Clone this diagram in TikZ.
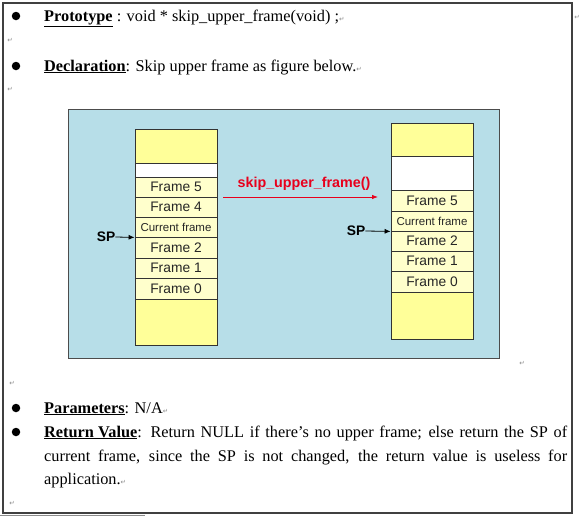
\documentclass[tikz,border=0pt]{standalone}
\usepackage{fontspec}
\setmainfont{Liberation Serif}
\setsansfont{Liberation Sans}
\newfontfamily\markfont{DejaVu Sans}
\usetikzlibrary{arrows.meta}
\definecolor{bgblue}{HTML}{B7DEE8}
\definecolor{stackyellow}{HTML}{FFFF99}
\definecolor{framecream}{HTML}{FFFFCC}
\definecolor{arrowred}{HTML}{E8001C}
\definecolor{markgray}{HTML}{8A8A8A}
\newcommand{\pmark}{{\markfont\fontsize{6.5}{7}\selectfont\color{markgray}↵}}
\tikzset{
  cell/.style={draw=black!80, line width=0.8pt, minimum width=82pt, inner sep=0pt, text=black!85,
    font=\sffamily\fontsize{13.8}{15}\selectfont},
  ybox/.style={cell, fill=stackyellow},
  fbox/.style={cell, fill=framecream},
  wbox/.style={cell, fill=white},
  cfbox/.style={fbox, font=\sffamily\fontsize{11.5}{13}\selectfont},
  splabel/.style={font=\sffamily\bfseries\fontsize{13.8}{15}\selectfont, inner sep=0pt},
  sparrow/.style={-{Latex[length=6pt,width=5pt]}, line width=0.8pt},
  body/.style={anchor=base west, inner sep=0pt, font=\fontsize{16.3}{23}\selectfont},
  bullet/.style={circle, fill=black, inner sep=0pt, minimum size=8.5pt},
  retmark/.style={inner sep=0pt}
}
\begin{document}
\begin{tikzpicture}[x=1pt,y=-1pt]
\useasboundingbox (0,0) rectangle (579,517);
\fill[white] (0,0) rectangle (579,517);
% outer frame
\draw[line width=1.3pt, draw=black!75] (3,3) rectangle (572,513);
\draw[line width=0.8pt, draw=black!45] (0,515.5) -- (145,515.5);
% text lines
\node[bullet] (b1) at (16,16) {};
\node[body] (t1) at (44,21) {\textbf{\underline{Prototype}} : void * skip\_upper\_frame(void) ;\pmark};
\node[retmark] (m0) at (577,17) {\pmark};
\node[retmark] (m1) at (10,40) {\pmark};
\node[bullet] (b2) at (16,66) {};
\node[body] (t2) at (44,71) {\textbf{\underline{Declaration}}: Skip upper frame as figure below.\pmark};
\node[retmark] (m2) at (10,89) {\pmark};
% diagram background
\node[draw=black!70, line width=0.8pt, fill=bgblue, minimum width=431pt, minimum height=249pt, inner sep=0pt] (bg) at (283.5,233.5) {};
\node[retmark] (m3) at (522,363) {\pmark};
% left stack
\node[ybox, minimum height=34pt] (Ltop) at (176,146) {};
\node[wbox, minimum height=14pt] (Lw) at (176,170) {};
\node[fbox, minimum height=20pt] (L5) at (176,187) {Frame 5};
\node[fbox, minimum height=20pt] (L4) at (176,207) {Frame 4};
\node[cfbox, minimum height=20pt] (Lc) at (176,227) {Current frame};
\node[fbox, minimum height=21pt] (L2) at (176,247.5) {Frame 2};
\node[fbox, minimum height=20pt] (L1) at (176,268) {Frame 1};
\node[fbox, minimum height=21pt] (L0) at (176,288.5) {Frame 0};
\node[ybox, minimum height=46pt] (Lbot) at (176,322) {};
\node[splabel] (spl) at (106,237) {SP};
\draw[sparrow] (spl.east) -- (Lc.south west);
% right stack
\node[ybox, minimum height=33pt] (Rtop) at (432,139.5) {};
\node[wbox, minimum height=34pt] (Rw) at (432,173) {};
\node[fbox, minimum height=21pt] (R5) at (432,200.5) {Frame 5};
\node[cfbox, minimum height=20pt] (Rc) at (432,221) {Current frame};
\node[fbox, minimum height=20pt] (R2) at (432,241) {Frame 2};
\node[fbox, minimum height=20pt] (R1) at (432,261) {Frame 1};
\node[fbox, minimum height=21pt] (R0) at (432,281.5) {Frame 0};
\node[ybox, minimum height=47pt] (Rbot) at (432,315.5) {};
\node[splabel] (spr) at (356,231) {SP};
\draw[sparrow] (spr.east) -- (Rc.south west);
% transition arrow
\coordinate (ra) at (223,197);
\coordinate (rb) at (378,197);
\draw[-{Latex[length=6pt,width=4.5pt]}, draw=arrowred, line width=0.8pt] (ra) -- (rb);
\node[font=\sffamily\bfseries\fontsize{14.3}{16}\selectfont, text=arrowred, inner sep=0pt] (fn) at (304,184) {skip\_upper\_frame()};
% lower text
\node[retmark] (m4) at (12,383) {\pmark};
\node[bullet] (b3) at (16,408) {};
\node[body] (t3) at (44,413) {\textbf{\underline{Parameters}}: N/A\pmark};
\node[bullet] (b4) at (16,432) {};
\node[body] (t4) at (44,437) {\makebox[523pt][s]{\textbf{\underline{Return Value}}: Return NULL if there’s no upper frame; else return the SP of}};
\node[body] (t5) at (44,461) {\makebox[523pt][s]{current frame, since the SP is not changed, the return value is useless for}};
\node[body] (t6) at (44,484) {application.\pmark};
\node[retmark] (m5) at (12,503) {\pmark};
\end{tikzpicture}
\end{document}
